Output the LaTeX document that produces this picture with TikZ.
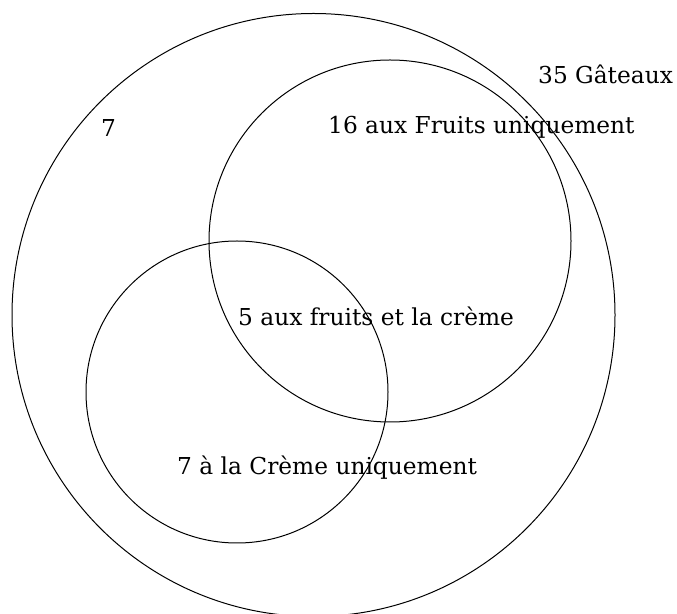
\documentclass[tikz,border=0pt]{standalone}
\usepackage{fontspec}
\setmainfont{DejaVu Serif}
\begin{document}
\begin{tikzpicture}[x=1pt,y=1pt,
  setline/.style={draw=black, line width=1pt},
  lbl/.style={anchor=base west, inner sep=0pt, font=\fontsize{23.3}{28}\selectfont}]
\useasboundingbox (0,0) rectangle (677,613);
\begin{scope}
\clip (0,0) rectangle (677,613);
\coordinate (cG) at (313.5,298);
\coordinate (cF) at (390,372);
\coordinate (cC) at (237,221);
\draw[setline] (cG) circle[radius=301.5];
\draw[setline] (cF) circle[radius=181];
\draw[setline] (cC) circle[radius=151];
\end{scope}
\node[lbl] (tG) at (538,529) {35 Gâteaux};
\node[lbl] (tO) at (101,476) {7};
\node[lbl] (tF) at (328,479) {16 aux Fruits uniquement};
\node[lbl] (tFC) at (238,287) {5 aux fruits et la crème};
\node[lbl] (tC) at (177,138) {7 à la Crème uniquement};
\end{tikzpicture}
\end{document}
